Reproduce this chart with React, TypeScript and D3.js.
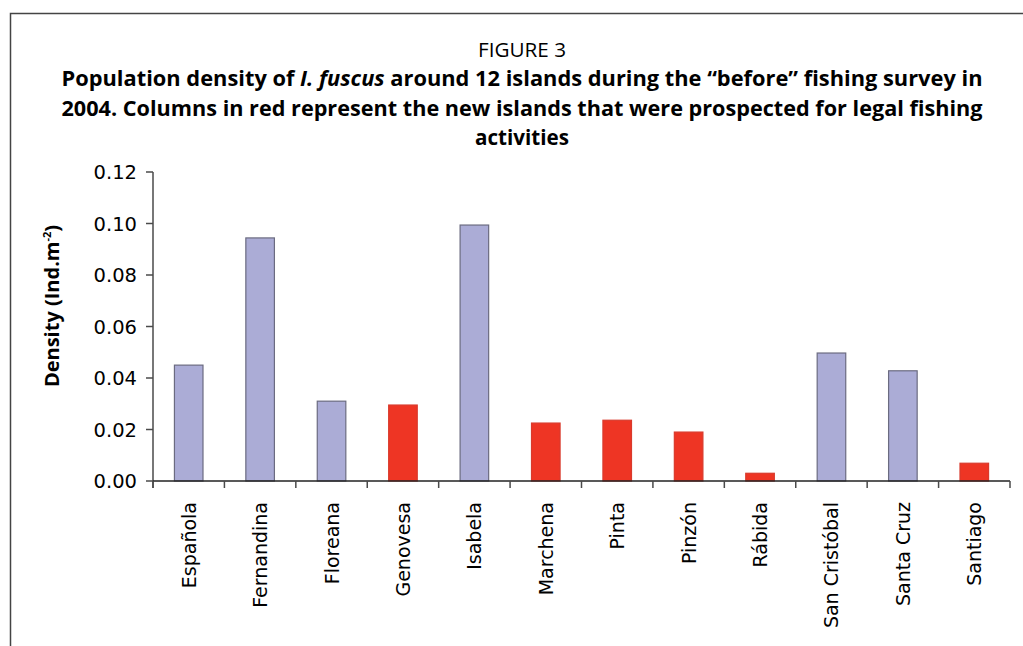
import React, { useEffect, useRef } from 'react';
import * as d3 from 'd3';

const islands = ['Española', 'Fernandina', 'Floreana', 'Genovesa', 'Isabela', 'Marchena', 'Pinta', 'Pinzón', 'Rábida', 'San Cristóbal', 'Santa Cruz', 'Santiago'];
const density = [0.045, 0.0944, 0.031, 0.0295, 0.0994, 0.0225, 0.0236, 0.019, 0.003, 0.0497, 0.0428, 0.0069];
const isNew = [false, false, false, true, false, true, true, true, true, false, false, true];
const yTicks = [0, 0.02, 0.04, 0.06, 0.08, 0.1, 0.12];

const W = 1023;
const H = 646;

const App: React.FC = () => {
  const svgRef = useRef<SVGSVGElement>(null);

  useEffect(() => {
    if (!svgRef.current) return;
    const svg = d3.select(svgRef.current);
    svg.selectAll('*').remove();

    // frame (only top and left edges visible)
    svg.append('path')
      .attr('d', `M10.5,${H} L10.5,13.5 L${W},13.5`)
      .attr('fill', 'none')
      .attr('stroke', '#444')
      .attr('stroke-width', 1.5);

    // titles
    const cx = 522;
    svg.append('text')
      .attr('x', cx).attr('y', 57)
      .attr('text-anchor', 'middle')
      .attr('textLength', 88).attr('lengthAdjust', 'spacingAndGlyphs')
      .style('font-family', '"Open Sans", sans-serif')
      .style('font-size', '20px')
      .text('FIGURE 3');

    const titleFont = (t: d3.Selection<SVGTextElement, unknown, null, undefined>) =>
      t.style('font-family', '"Open Sans", sans-serif')
        .style('font-size', '21px')
        .style('font-weight', 'bold')
        .attr('text-anchor', 'middle');

    const l1 = svg.append('text').attr('x', cx).attr('y', 86)
      .attr('textLength', 921).attr('lengthAdjust', 'spacingAndGlyphs');
    titleFont(l1);
    l1.append('tspan').text('Population density of ');
    l1.append('tspan').style('font-style', 'italic').text('I. fuscus');
    l1.append('tspan').text(' around 12 islands during the \u201cbefore\u201d fishing survey in');

    const l2 = svg.append('text').attr('x', cx).attr('y', 116)
      .attr('textLength', 921).attr('lengthAdjust', 'spacingAndGlyphs')
      .text('2004. Columns in red represent the new islands that were prospected for legal fishing');
    titleFont(l2);

    const l3 = svg.append('text').attr('x', cx).attr('y', 145)
      .attr('textLength', 94).attr('lengthAdjust', 'spacingAndGlyphs')
      .text('activities');
    titleFont(l3);

    // scales
    const x = d3.scaleBand<string>()
      .domain(islands)
      .range([153, 1010])
      .paddingInner(0.6)
      .paddingOuter(0.3);
    const y = d3.scaleLinear().domain([0, 0.12]).range([481, 172]);
    const step = x.step();
    const [x0] = x.range();

    // bars
    svg.append('g')
      .selectAll('rect')
      .data(islands)
      .join('rect')
      .attr('x', d => x(d)!)
      .attr('width', x.bandwidth())
      .attr('y', (d, i) => y(density[i]))
      .attr('height', (d, i) => y(0) - y(density[i]))
      .attr('fill', (d, i) => (isNew[i] ? '#ee3524' : '#abacd6'))
      .attr('stroke', (d, i) => (isNew[i] ? '#d93a2c' : '#6b6b80'))
      .attr('stroke-width', 1.2);

    const axisColor = '#4a4a4a';

    // y axis
    svg.append('line')
      .attr('x1', x0).attr('x2', x0)
      .attr('y1', y(0.12)).attr('y2', y(0) + 7)
      .attr('stroke', axisColor).attr('stroke-width', 1.5);
    const yg = svg.append('g');
    yg.selectAll('line')
      .data(yTicks)
      .join('line')
      .attr('x1', x0 - 7).attr('x2', x0)
      .attr('y1', d => y(d)).attr('y2', d => y(d))
      .attr('stroke', axisColor).attr('stroke-width', 1.5);
    yg.selectAll('text')
      .data(yTicks)
      .join('text')
      .attr('x', x0 - 16)
      .attr('y', d => y(d))
      .attr('dy', '0.36em')
      .attr('text-anchor', 'end')
      .style('font-family', '"DejaVu Sans", sans-serif')
      .style('font-size', '19.5px')
      .text(d => d3.format('.2f')(d));

    // x axis
    svg.append('line')
      .attr('x1', x0).attr('x2', x0 + step * islands.length)
      .attr('y1', y(0)).attr('y2', y(0))
      .attr('stroke', '#222').attr('stroke-width', 1.5);
    svg.append('g')
      .selectAll('line')
      .data(d3.range(islands.length + 1))
      .join('line')
      .attr('x1', i => x0 + i * step).attr('x2', i => x0 + i * step)
      .attr('y1', y(0)).attr('y2', y(0) + 7)
      .attr('stroke', axisColor).attr('stroke-width', 1.5);
    svg.append('g')
      .selectAll('text')
      .data(islands)
      .join('text')
      .attr('transform', d => `translate(${x(d)! + x.bandwidth() / 2 + 7},502) rotate(-90)`)
      .attr('text-anchor', 'end')
      .style('font-family', '"DejaVu Sans", sans-serif')
      .style('font-size', '19px')
      .text(d => d);

    // y axis label
    const yl = svg.append('text')
      .attr('transform', 'translate(59,306) rotate(-90)')
      .attr('text-anchor', 'middle')
      .style('font-family', '"Open Sans", sans-serif')
      .style('font-size', '20px')
      .style('font-weight', 'bold');
    yl.append('tspan').text('Density (Ind.m');
    yl.append('tspan').attr('dy', -8).style('font-size', '11px').text('-2');
    yl.append('tspan').attr('dy', 8).text(')');
  }, []);

  return <svg ref={svgRef} width={W} height={H} style={{ display: 'block', position: 'absolute', left: 0, top: 0, background: '#fff' }} />;
};

export default App;
